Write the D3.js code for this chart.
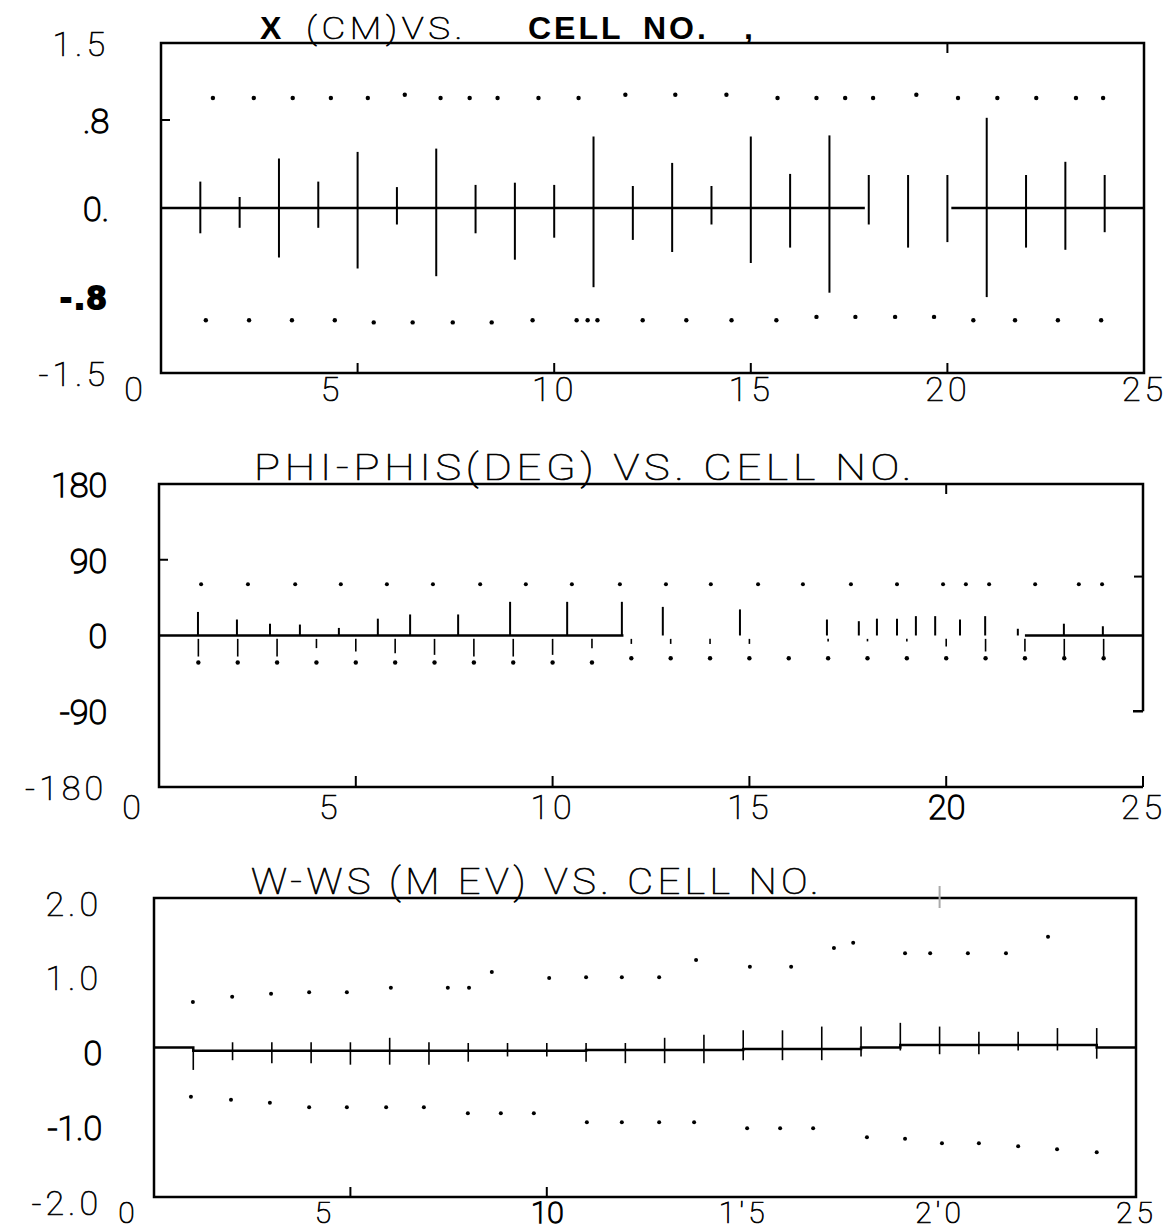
<!DOCTYPE html>
<meta charset="utf-8">
<style>
body { margin: 0; background: #fff; }
svg { display: block; background: #fff; }
.frame, .base { fill: none; stroke: #000; stroke-width: 2.5px; }
.tick { stroke: #000; stroke-width: 2px; }
.bar { stroke: #000; stroke-width: 2px; }
.bar.fine { stroke-width: 1.6px; }
.dot { fill: #000; }
.thin { font-family: Roboto, 'DejaVu Sans', sans-serif; font-weight: 100; letter-spacing: 4px;
        stroke: #000; stroke-width: 0.7px; }
.reg { font-family: Roboto, 'DejaVu Sans', sans-serif; font-weight: 100;
       stroke: #000; stroke-width: 1.5px; }
.bold { font-family: 'Liberation Sans Narrow', 'Liberation Sans', sans-serif; font-weight: bold; letter-spacing: 3px; }
</style>
<svg id="chart" width="1170" height="1230"></svg>
<script src="https://d3js.org/d3.v7.min.js"></script>
<script>

// ---- shared
var cells = d3.range(1, 25);
var xTicks = [0, 5, 10, 15, 20, 25];
var xTickLabels = ["0", "5", "10", "15", "20", "25"];
var xTickLabelsW = ["0", "5", "10", "1'5", "2'0", "25"];

// ---- X (CM) vs cell
var posTicks = [1.5, 0.8, 0, -0.8, -1.5];
var posTickLabels = ["1.5", ".8", "0.", "-.8", "-1.5"];
var posLo = [-0.23, -0.18, -0.45, -0.18, -0.55, -0.15, -0.62, -0.23, -0.47, -0.27, -0.72, -0.29,
             -0.40, -0.15, -0.50, -0.36, -0.77, -0.15, -0.36, -0.31, -0.81, -0.36, -0.38, -0.22];
var posHi = [0.24, 0.10, 0.45, 0.24, 0.51, 0.19, 0.54, 0.21, 0.23, 0.21, 0.65, 0.20,
             0.41, 0.20, 0.65, 0.31, 0.66, 0.30, 0.30, 0.30, 0.82, 0.30, 0.42, 0.30];
var posUpperAt = [1.32, 2.36, 3.35, 4.32, 5.26, 6.20, 7.11, 7.85, 8.56, 9.60, 10.62, 11.81,
                  13.08, 14.38, 15.68, 16.67, 17.40, 18.11, 19.21, 20.27, 21.27, 22.26, 23.27, 23.96];
var posUpperVal = [1.0, 1.0, 1.0, 1.0, 1.0, 1.03, 1.0, 1.0, 1.0, 1.0, 1.0, 1.03,
                   1.03, 1.03, 1.0, 1.0, 1.0, 1.0, 1.03, 1.0, 1.0, 1.0, 1.0, 1.0];
var posLowerAt = [1.14, 2.24, 3.33, 4.42, 5.41, 6.40, 7.42, 8.41, 9.45, 10.57, 10.85, 11.10,
                  12.25, 13.36, 14.51, 15.65, 16.67, 17.66, 18.67, 19.66, 20.66, 21.72, 22.81, 23.91];
var posLowerVal = [-1.02, -1.02, -1.02, -1.02, -1.04, -1.04, -1.04, -1.04, -1.02, -1.02, -1.02, -1.02,
                   -1.02, -1.02, -1.02, -1.02, -0.99, -0.99, -0.99, -0.99, -1.02, -1.02, -1.02, -1.02];
var posBaseSegs = [[0, 17.9], [20.1, 25]];

// ---- PHI-PHIS (DEG) vs cell
var phiTicks = [180, 90, 0, -90, -180];
var phiTickLabels = ["180", "90", "0", "-90", "-180"];
var phiUpAt = [0.99, 1.98, 2.82, 3.58, 4.57, 5.56, 6.38, 7.60, 8.92, 10.37, 11.76, 12.80,
               14.76, 16.97, 17.78, 18.24, 18.75, 19.23, 19.72, 20.35, 20.99, 21.82, 22.99, 23.98];
var phiUpVal = [28, 19, 14, 13, 9, 20, 25, 25, 40, 40, 40, 34,
                31, 19, 17, 20, 20, 23, 23, 19, 23, 8, 14, 11];
var phiLo = [-25, -25, -25, -15, -19, -21, -23, -25, -25, -23, -15, -10,
             -10, -10, -10, -4, -7, -7, -7, -13, -19, -19, -25, -25];
var phiDot = [-32, -32, -32, -32, -32, -32, -32, -32, -32, -32, -32, -27,
              -27, -27, -27, -27, -27, -27, -27, -27, -27, -27, -27, -27];
var phiTopAt = [1.07, 2.26, 3.46, 4.62, 5.79, 6.96, 8.16, 9.32, 10.49, 11.71, 12.88,
                14.02, 15.22, 16.36, 17.58, 18.75, 19.92, 20.50, 21.09, 22.26, 23.37, 23.96];
var phiTopVal = [61, 61, 61, 61, 61, 61, 61, 61, 61, 61, 61,
                 61, 61, 61, 61, 61, 61, 61, 61, 61, 61, 61];
var phiBaseSegs = [[0, 11.8], [22.0, 25]];

// ---- W-WS (MEV) vs cell
var wTicks = [2, 1, 0, -1, -2];
var wTickLabels = ["2.0", "1.0", "0", "-1.0", "-2.0"];
var wLo = [-0.30, -0.17, -0.21, -0.21, -0.23, -0.23, -0.23, -0.19, -0.12, -0.12, -0.19, -0.21,
           -0.21, -0.21, -0.17, -0.17, -0.17, -0.12, -0.04, -0.09, -0.09, -0.04, -0.04, -0.15];
var wHi = [-0.05, 0.07, 0.07, 0.07, 0.07, 0.13, 0.07, 0.06, 0.06, 0.06, 0.06, 0.06,
           0.13, 0.17, 0.23, 0.23, 0.28, 0.28, 0.33, 0.28, 0.21, 0.21, 0.26, 0.26];
var wMean = [-0.045, -0.045, -0.045, -0.045, -0.045, -0.045, -0.045, -0.045, -0.045, -0.045,
             -0.035, -0.035, -0.035, -0.035, -0.02, -0.02, -0.02, 0, 0.035, 0.035, 0.035, 0.035, 0.035];
var wUpAt = [0.99, 1.99, 2.98, 3.95, 4.91, 6.03, 7.48, 8.02, 8.60, 10.06, 11.0, 11.91,
             12.86, 13.80, 15.17, 16.22, 17.31, 17.80, 19.12, 19.76, 20.72, 21.69, 22.76];
var wUpVal = [0.61, 0.68, 0.72, 0.74, 0.74, 0.80, 0.80, 0.80, 1.01, 0.93, 0.94, 0.94,
              0.94, 1.17, 1.08, 1.08, 1.33, 1.40, 1.26, 1.26, 1.26, 1.26, 1.48];
var wDnAt = [0.94, 1.96, 2.95, 3.95, 4.91, 5.91, 6.87, 7.99, 8.83, 9.67, 11.02, 11.91,
             12.86, 13.75, 15.10, 15.94, 16.78, 18.15, 19.12, 20.06, 21.0, 22.0, 22.99, 24.0];
var wDnVal = [-0.66, -0.70, -0.74, -0.80, -0.80, -0.80, -0.80, -0.88, -0.88, -0.88, -1.0, -1.0,
              -1.0, -1.0, -1.08, -1.08, -1.08, -1.20, -1.22, -1.28, -1.28, -1.32, -1.36, -1.40];

// fonts of the tick labels, as the plotter left them
var posYFonts = ["thin", "reg", "reg", "bold", "thin"];
var phiYFonts = ["reg", "reg", "reg", "reg", "thin"];
var wYFonts = ["thin", "thin", "reg", "reg", "thin"];
var xFonts = ["thin", "thin", "thin", "thin", "thin", "thin"];
var phiXFonts = ["thin", "thin", "thin", "thin", "reg", "thin"];
var wXFonts = ["thin", "thin", "reg", "thin", "thin", "thin"];

var svg = d3.select("#chart");

function pts(at, val) {
  return at.map(function(a, i) { return [a, val[i]]; });
}

function yLabels(g, y, left, ticks, labels, fonts, shift) {
  var axis = d3.axisLeft(y).tickValues(ticks).tickSize(0).tickPadding(52)
      .tickFormat(function(d, i) { return labels[i]; });
  var a = g.append("g").attr("transform", "translate(" + left + ",0)").call(axis);
  a.select(".domain").remove();
  a.selectAll("text")
      .attr("class", function(d, i) { return fonts[i]; })
      .attr("dy", shift)
      .style("font-size", "34px")
      .style("fill", "#000");
}

function xLabels(g, x, bottom, labels, fonts, size) {
  var axis = d3.axisBottom(x).tickValues(xTicks).tickSize(0).tickPadding(4)
      .tickFormat(function(d, i) { return labels[i]; });
  var a = g.append("g").attr("transform", "translate(0," + bottom + ")").call(axis);
  a.select(".domain").remove();
  a.selectAll("text")
      .attr("class", function(d, i) { return fonts[i]; })
      .attr("dx", function(d) { return d <= 5 ? -26 : 0; })
      .style("font-size", size + "px")
      .style("fill", "#000");
}

function innerTicks(g, x, yy, vals, len) {
  g.selectAll(null).data(vals).enter().append("line")
      .attr("class", "tick")
      .attr("x1", function(d) { return x(d); })
      .attr("x2", function(d) { return x(d); })
      .attr("y1", yy)
      .attr("y2", yy + len);
}

function baseline(g, x, y, segs) {
  g.selectAll(null).data(segs).enter().append("line")
      .attr("class", "base")
      .attr("x1", function(d) { return x(d[0]); })
      .attr("x2", function(d) { return x(d[1]); })
      .attr("y1", y(0)).attr("y2", y(0));
}

function dots(g, x, y, data, r) {
  g.selectAll(null).data(data).enter().append("circle")
      .attr("class", "dot")
      .attr("cx", function(d) { return x(d[0]); })
      .attr("cy", function(d) { return y(d[1]); })
      .attr("r", r);
}

// ================= panel 1 : X (CM)
(function() {
  var L = 161, R = 1144, T = 43, B = 373;
  var x = d3.scaleLinear().domain([0, 25]).range([L, R]);
  var y = d3.scaleLinear().domain([-1.5, 1.5]).range([B, T]);
  var g = svg.append("g");

  g.append("path").attr("class", "frame")
      .attr("d", "M" + L + "," + T + "H" + R + "V" + B + "H" + L + "Z");
  baseline(g, x, y, posBaseSegs);

  g.selectAll(null).data(cells).enter().append("line")
      .attr("class", "bar")
      .attr("x1", function(d) { return x(d); })
      .attr("x2", function(d) { return x(d); })
      .attr("y1", function(d, i) { return y(posHi[i]); })
      .attr("y2", function(d, i) { return y(posLo[i]); });

  dots(g, x, y, pts(posUpperAt, posUpperVal), 2.2);
  dots(g, x, y, pts(posLowerAt, posLowerVal), 2.2);

  innerTicks(g, x, B, [5, 10, 15, 20], -10);
  innerTicks(g, x, T, [20], 10);
  g.append("line").attr("class", "tick")
      .attr("x1", L).attr("x2", L + 9).attr("y1", y(0.8)).attr("y2", y(0.8));

  yLabels(g, y, L, posTicks, posTickLabels, posYFonts, "0.36em");
  xLabels(g, x, B, xTickLabels, xFonts, 34);

  var t = g.append("text").attr("y", 39).style("font-size", "32px");
  t.append("tspan").attr("class", "bold").attr("x", 260).text("X");
  t.append("tspan").attr("class", "thin").attr("x", 306)
      .attr("textLength", 161).attr("lengthAdjust", "spacingAndGlyphs").text("(CM)VS.");
  t.append("tspan").attr("class", "bold").attr("x", 528).text("CELL");
  t.append("tspan").attr("class", "bold").attr("x", 643).text("NO.");
  t.append("tspan").attr("class", "bold").attr("x", 744).text(",");
})();

// ================= panel 2 : PHI-PHIS (DEG)
(function() {
  var L = 159, R = 1143, T = 484, B = 787;
  var x = d3.scaleLinear().domain([0, 25]).range([L, R]);
  var y = d3.scaleLinear().domain([-180, 180]).range([B, T]);
  var g = svg.append("g");

  g.append("path").attr("class", "frame")
      .attr("d", "M" + R + "," + y(-90) + "h-10M" + R + "," + y(-90) + "V" + T + "H" + L + "V" + B + "H" + R);
  baseline(g, x, y, phiBaseSegs);

  g.selectAll(null).data(pts(phiUpAt, phiUpVal)).enter().append("line")
      .attr("class", "bar")
      .attr("x1", function(d) { return x(d[0]); })
      .attr("x2", function(d) { return x(d[0]); })
      .attr("y1", function(d) { return y(d[1]); })
      .attr("y2", y(0));

  g.selectAll(null).data(cells).enter().append("line")
      .attr("class", "bar fine")
      .attr("x1", function(d) { return x(d); })
      .attr("x2", function(d) { return x(d); })
      .attr("y1", y(-4))
      .attr("y2", function(d, i) { return y(phiLo[i]); });

  dots(g, x, y, pts(cells, phiDot), 2.2);
  dots(g, x, y, pts(phiTopAt, phiTopVal), 2.0);

  innerTicks(g, x, B, [5, 10, 15, 20, 25], -11);
  innerTicks(g, x, T, [20], 10);
  g.append("line").attr("class", "tick")
      .attr("x1", L).attr("x2", L + 9).attr("y1", y(90)).attr("y2", y(90));
  g.append("line").attr("class", "tick")
      .attr("x1", R).attr("x2", R - 9).attr("y1", y(70)).attr("y2", y(70));

  yLabels(g, y, L, phiTicks, phiTickLabels, phiYFonts, "0.36em");
  xLabels(g, x, B + 4, xTickLabels, phiXFonts, 34);

  g.append("text").attr("class", "thin").attr("x", 254).attr("y", 480)
      .attr("textLength", 662).attr("lengthAdjust", "spacingAndGlyphs")
      .style("font-size", "36px").text("PHI-PHIS(DEG) VS. CELL NO.");
})();

// ================= panel 3 : W-WS (MEV)
(function() {
  var L = 154, R = 1136, T = 898, B = 1197;
  var x = d3.scaleLinear().domain([0, 25]).range([L, R]);
  var y = d3.scaleLinear().domain([-2, 2]).range([B, T]);
  var g = svg.append("g");

  g.append("path").attr("class", "frame")
      .attr("d", "M" + L + "," + T + "H" + R + "V" + B + "H" + L + "Z");

  var steps = [[0, 0]].concat(pts(cells.slice(0, 23), wMean), [[24, 0], [25, 0]]);
  g.append("path").attr("class", "base")
      .attr("d", d3.line().curve(d3.curveStepAfter)
        .x(function(d) { return x(d[0]); })
        .y(function(d) { return y(d[1]); })(steps));

  g.selectAll(null).data(cells).enter().append("line")
      .attr("class", "bar fine")
      .attr("x1", function(d) { return x(d); })
      .attr("x2", function(d) { return x(d); })
      .attr("y1", function(d, i) { return y(wHi[i]); })
      .attr("y2", function(d, i) { return y(wLo[i]); });

  dots(g, x, y, pts(wUpAt, wUpVal), 2.0);
  dots(g, x, y, pts(wDnAt, wDnVal), 2.0);

  innerTicks(g, x, B, [5, 10], -10);
  g.append("line").attr("class", "tick").style("stroke", "#aaa")
      .attr("x1", x(20)).attr("x2", x(20)).attr("y1", T - 12).attr("y2", T + 10);

  yLabels(g, y, L, wTicks, wTickLabels, wYFonts, "0.5em");
  xLabels(g, x, B + 1, xTickLabelsW, wXFonts, 30);

  g.append("text").attr("class", "thin").attr("x", 251).attr("y", 894)
      .attr("textLength", 572).attr("lengthAdjust", "spacingAndGlyphs")
      .style("font-size", "36px").text("W-WS (M EV) VS. CELL NO.");
})();

</script>
